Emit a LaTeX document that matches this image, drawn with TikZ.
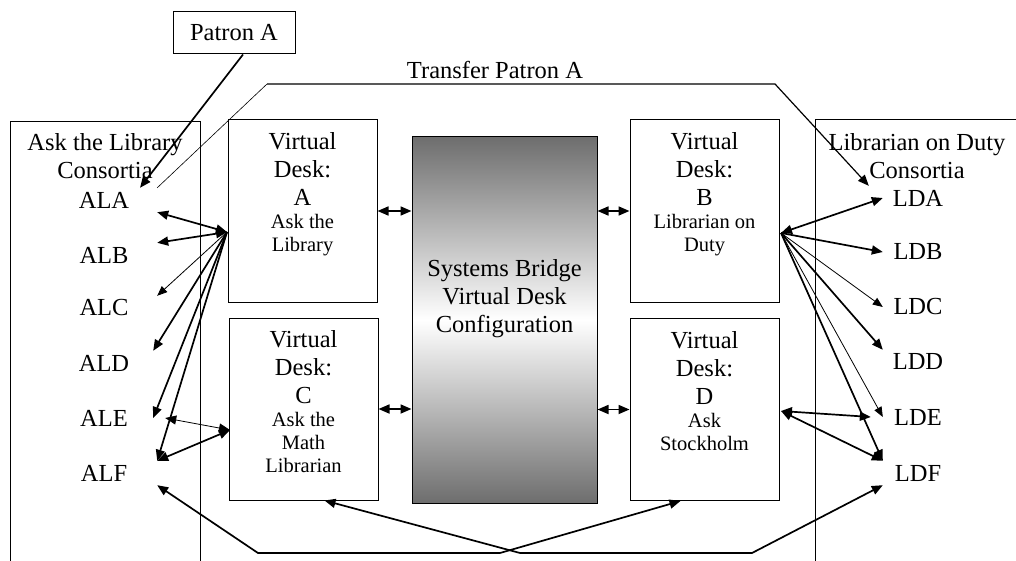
\documentclass[tikz,border=0pt]{standalone}
\usepackage{fontspec}
\setmainfont{Liberation Serif}
\usepackage{tikz}
\usetikzlibrary{positioning,arrows.meta}

\newcommand{\mainsize}{\fontsize{24.5}{28}\selectfont}
\newcommand{\descsize}{\fontsize{20.5}{22}\selectfont}

\begin{document}
\begin{tikzpicture}[x=1pt,y=-1pt,
  every node/.style={font=\mainsize},
  framebox/.style={draw,line width=1pt,inner sep=0pt},
  desk/.style={framebox,minimum width=149pt,minimum height=182pt},
  desklabel/.style={align=center,inner sep=0pt},
  member/.style={inner sep=0pt,minimum height=24pt},
  leftmember/.style={member,minimum width=106pt},
  rightmember/.style={member,minimum width=70pt},
  wire/.style={line width=1.7pt,-{Triangle[length=11pt,width=9pt]}},
  thinwire/.style={line width=0.8pt,-{Triangle[length=10pt,width=8pt]}},
  twoway/.style={{Triangle[length=11pt,width=9pt]}-{Triangle[length=11pt,width=9pt]}}]
\useasboundingbox (0,0) rectangle (1016,561);

% consortia frames
\draw[line width=1pt] (10,575) -- (10,122) -- (200,122) -- (200,575);
\draw[line width=1pt] (815,575) -- (815,120) -- (1030,120);
\node[desklabel,anchor=north] (altTitle) at (105,133) {Ask the Library\\Consortia};
\node[desklabel,anchor=north] (lodTitle) at (917,133) {Librarian on Duty\\Consortia};

\node[framebox,minimum width=122pt,minimum height=42pt] (patron) at (234,33) {Patron A};
\node (transferText) at (495,70) {Transfer Patron A};

% members
\node[leftmember] (ALA) at (104,200) {ALA};
\node[leftmember] (ALB) at (104,255) {ALB};
\node[leftmember] (ALC) at (104,308) {ALC};
\node[leftmember] (ALD) at (104,363) {ALD};
\node[leftmember] (ALE) at (104,418) {ALE};
\node[leftmember] (ALF) at (104,473) {ALF};
\node[rightmember] (LDA) at (918,198) {LDA};
\node[rightmember] (LDB) at (918,252) {LDB};
\node[rightmember] (LDC) at (918,307) {LDC};
\node[rightmember] (LDD) at (918,362) {LDD};
\node[rightmember] (LDE) at (918,417) {LDE};
\node[rightmember] (LDF) at (918,473) {LDF};

% desks
\node[desk] (deskA) at (302.5,211) {};
\node[desk] (deskC) at (303.5,409) {};
\node[desk] (deskB) at (704.5,211) {};
\node[desk] (deskD) at (704.5,409.5) {};
\node[framebox,minimum width=185pt,minimum height=366pt,
  top color=black!57,bottom color=black!57,middle color=white] (bridge) at (504.5,320) {};
\node[desklabel] (bridgeText) at ([yshift=21pt]bridge.center) {Systems Bridge\\Virtual Desk\\Configuration};

\node[desklabel,below=13pt of deskA.north] (deskAText) {Virtual\\Desk:\\A\\[-5pt]{\descsize Ask the}\\[-5pt]{\descsize Library}};
\node[desklabel,below=13pt of deskC.north] (deskCText) {Virtual\\Desk:\\C\\[-5pt]{\descsize Ask the}\\[-5pt]{\descsize Math}\\[-5pt]{\descsize Librarian}};
\node[desklabel,below=13pt of deskB.north] (deskBText) {Virtual\\Desk:\\B\\[-5pt]{\descsize Librarian on}\\[-5pt]{\descsize Duty}};
\node[desklabel,below=13pt of deskD.north] (deskDText) {Virtual\\Desk:\\D\\[-5pt]{\descsize Ask}\\[-5pt]{\descsize Stockholm}};

% desks to bridge
\draw[wire,twoway] (deskA.east) -- (deskA.east -| bridge.west);
\draw[wire,twoway] (deskC.east) -- (deskC.east -| bridge.west);
\draw[wire,twoway] (deskB.west) -- (deskB.west -| bridge.east);
\draw[wire,twoway] (deskD.west) -- (deskD.west -| bridge.east);

% left fan
\coordinate (hubA) at (227,232);
\coordinate (hubC) at (230,430);
\draw[wire,twoway] (hubA) -- (ALA.south east);
\draw[wire,twoway] (hubA) -- (ALB.north east);
\draw[thinwire] (hubA) -- (ALC.north east);
\draw[wire] (hubA) -- ([xshift=-4pt]ALD.north east);
\draw[wire] (hubA) -- ([xshift=-4pt]ALE.east);
\draw[wire] (hubA) -- (ALF.north east);
\draw[thinwire,twoway] ([xshift=8pt]ALE.east) -- (hubC);
\draw[wire,twoway] (hubC) -- (ALF.north east);

% right fan
\coordinate (hubB) at (781,233);
\coordinate (hubD) at (781,411);
\draw[wire,twoway] (hubB) -- (LDA.west);
\draw[wire] (hubB) -- (LDB.west);
\draw[thinwire] (hubB) -- (LDC.west);
\draw[wire] (hubB) -- (LDD.north west);
\draw[thinwire] (hubB) -- (LDE.west);
\draw[wire] (hubB) -- (LDF.north west);
\draw[wire,twoway] (hubD) -- ([xshift=-12pt]LDE.west);
\draw[wire,twoway] (hubD) -- (LDF.north west);

% patron transfer
\coordinate (transferL) at (267,84);
\coordinate (transferR) at (775,84);
\draw[wire] ([xshift=9pt]patron.south) -- ([xshift=36pt]ALA.north);
\draw[line width=0.6pt] (ALA.north east) -- (transferL);
\draw[line width=1.2pt,-{Triangle[length=11pt,width=9pt]}] (transferL) -- (transferR) -- ([xshift=-14pt]LDA.north west);

% bottom loop
\coordinate (loopL1) at (258,553);
\coordinate (loopL2) at (500,553);
\coordinate (loopR1) at (520,553);
\coordinate (loopR2) at (752,553);
\draw[wire,twoway] (ALF.south east) -- (loopL1) -- (loopL2) -- ([xshift=-24pt]deskD.south);
\draw[wire,twoway] ([xshift=21pt]deskC.south) -- (loopR1) -- (loopR2) -- (LDF.south west);
\end{tikzpicture}
\end{document}
